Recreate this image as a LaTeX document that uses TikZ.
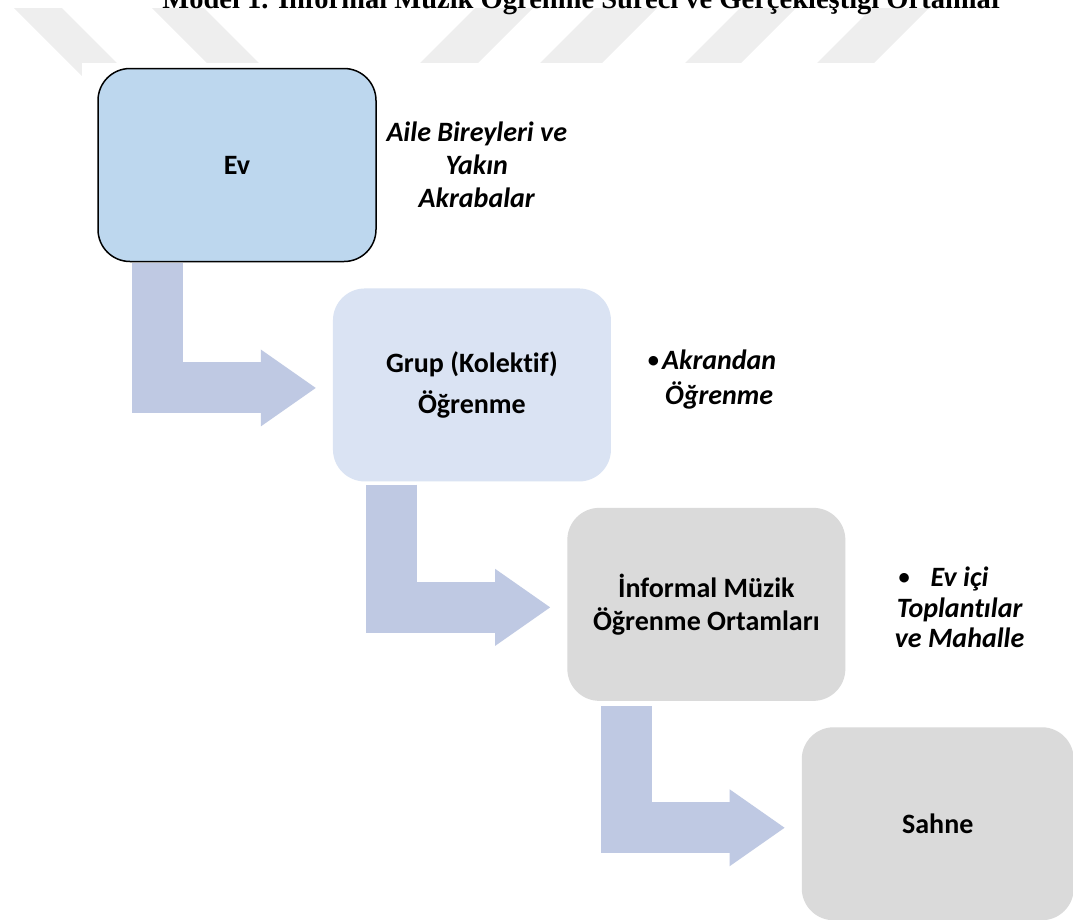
\documentclass[tikz,border=0pt]{standalone}
\usepackage{fontspec}
\setmainfont{Carlito}[Ligatures=NoCommon]
\newfontfamily\serifbold{Liberation Serif}
\usetikzlibrary{positioning,arrows.meta}
\definecolor{evblue}{RGB}{189,215,238}
\definecolor{grupblue}{RGB}{218,227,243}
\definecolor{boxgrey}{RGB}{218,218,218}
\definecolor{flowblue}{RGB}{191,201,227}
\definecolor{markgrey}{RGB}{238,238,238}
\newcommand{\dotmark}{{\upshape\raisebox{0.09em}{\scalebox{0.8}{\textbullet}}}}

\begin{document}
\begin{tikzpicture}[x=1pt,y=-1pt]
\tikzstyle{box}=[rectangle, rounded corners=32pt, minimum width=278pt, minimum height=193pt, align=center, font=\bfseries\fontsize{28}{33}\selectfont, node distance=26pt and -44pt]
\tikzstyle{note}=[align=center, font=\bfseries\itshape\fontsize{28}{33}\selectfont]
\tikzstyle{connect}=[draw=flowblue, line width=51pt, -{Triangle[length=55pt 0 0, width=77pt 0 0, line width=0pt 0 0]}]
  \useasboundingbox (0,0) rectangle (1073,919);
  \clip (0,0) rectangle (1073,919);
  % watermark strips
  \foreach \a/\b in {14/62, 152/204}
    \fill[markgrey] (\a,8) -- (\b,8) -- (\b+85,93) -- (\a+85,93) -- cycle;
  \foreach \a/\b in {420/478, 540/602, 685/741, 817/874}
    \fill[markgrey] (\a,63) -- (\b,63) -- (\b+55,8) -- (\a+55,8) -- cycle;
  \fill[white] (82,63) rectangle (1073,919);
  \node[anchor=base, font=\serifbold\bfseries\fontsize{28.5}{30}\selectfont] (title) at (583,8) {Model 1. İnformal Müzik Öğrenme Süreci ve Gerçekleştiği Ortamlar};
  % steps
  \node[box, draw=black, line width=1.5pt, fill=evblue] (ev) at (237,165) {Ev};
  \node[box, fill=grupblue, below right=of ev] (grup) {Grup (Kolektif)\\[8pt]Öğrenme};
  \node[box, fill=boxgrey, below right=of grup] (ortam) {İnformal Müzik\\Öğrenme Ortamları};
  \node[box, fill=boxgrey, minimum width=272pt, below right=of ortam] (sahne) {Sahne};
  % side notes
  \node[note] (evnote) at ([xshift=100pt]ev.east) {Aile Bireyleri ve\\Yakın\\Akrabalar};
  \node[note] (grupnote) at ([xshift=108pt,yshift=5pt]grup.east) {\llap{\dotmark\hspace{3pt}}Akrandan\\[2pt]Öğrenme};
  \node[note] (ortamnote) at ([xshift=114pt,yshift=-3pt]ortam.east) {\llap{\dotmark\hspace{21pt}}Ev içi\\[-2.5pt]Toplantılar\\[-2.5pt]ve Mahalle};
  % bent arrows
  \draw[connect] ([xshift=60pt,yshift=-1pt]ev.south west) |- ([xshift=-17pt,yshift=-3pt]grup.west);
  \draw[connect] ([xshift=59pt,yshift=-3pt]grup.south west) |- ([xshift=-17pt,yshift=-3pt]ortam.west);
  \draw[connect] ([xshift=59pt,yshift=-5pt]ortam.south west) |- ([xshift=-17pt,yshift=-4pt]sahne.west);
\end{tikzpicture}
\end{document}
